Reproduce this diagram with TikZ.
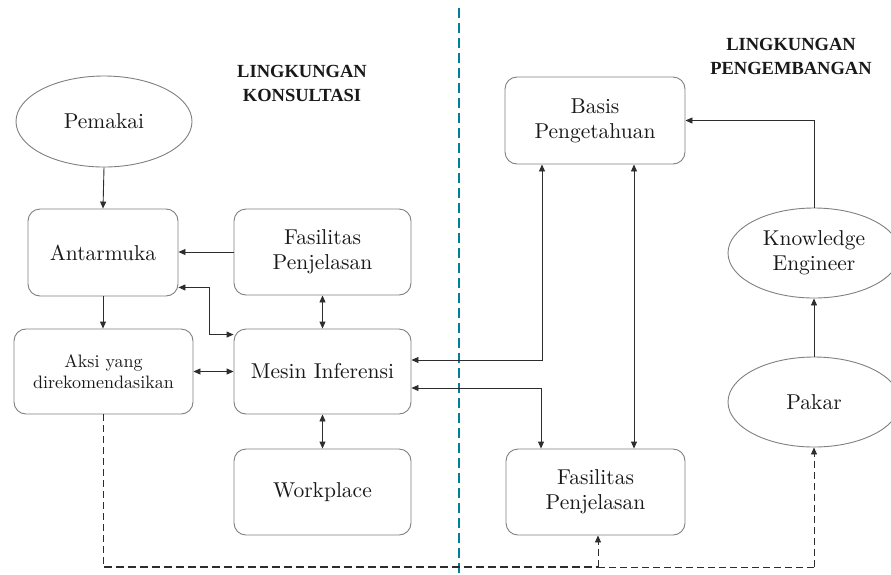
\documentclass[tikz,border=0pt]{standalone}
\usepackage{fontspec}
\newfontfamily\headfont{Liberation Serif}
\newfontfamily\bodyfont{lmroman10-regular}[Extension=.otf]
\usetikzlibrary{arrows.meta,shapes.geometric}
\definecolor{edgegray}{RGB}{128,128,128}
\definecolor{linegray}{RGB}{45,45,45}
\definecolor{divteal}{RGB}{0,128,150}
\definecolor{txt}{RGB}{25,25,25}
\tikzset{
  box/.style={draw=edgegray, line width=0.9pt, rounded corners=12pt, align=center, text=txt,
    font=\bodyfont\fontsize{21.5}{25}\selectfont, inner sep=0pt},
  oval/.style={ellipse, draw=edgegray, line width=0.9pt, align=center, text=txt,
    font=\bodyfont\fontsize{21.5}{25}\selectfont, inner sep=0pt},
  conn/.style={draw=linegray, line width=0.9pt},
  tip/.tip={Triangle[length=7pt,width=6pt]},
  arr/.style={conn, -tip},
  arrboth/.style={conn, tip-tip},
  dashthin/.style={draw=linegray, line width=0.8pt, dash pattern=on 7pt off 4pt},
  dashthick/.style={draw=linegray, line width=1.6pt, dash pattern=on 8pt off 4pt},
  heading/.style={align=center, text=txt, font=\headfont\bfseries\fontsize{18.5}{24}\selectfont},
}
\begin{document}
\begin{tikzpicture}[x=1pt,y=-1pt]
\useasboundingbox (0,0) rectangle (891,574);
\fill[white] (0,0) rectangle (891,574);

% divider
\draw[divteal, line width=1.2pt, dash pattern=on 10pt off 5pt] (459,8) -- (459,574);

% headings
\node[heading] (h1) at (302,83) {LINGKUNGAN\\KONSULTASI};
\node[heading] (h2) at (791,56) {LINGKUNGAN\\PENGEMBANGAN};

% nodes
\node[oval, minimum width=176pt, minimum height=91pt] (pem) at (104,121.5) {Pemakai};
\node[box, minimum width=150pt, minimum height=87pt] (ant) at (103,252.5) {Antarmuka};
\node[box, minimum width=177pt, minimum height=86pt] (fas1) at (322.5,252) {Fasilitas\\Penjelasan};
\node[box, minimum width=179pt, minimum height=85pt, font=\bodyfont\fontsize{18}{21}\selectfont] (aksi) at (103.5,371.5) {Aksi yang\\direkomendasikan};
\node[box, minimum width=177pt, minimum height=85pt] (mesin) at (322.5,371.5) {Mesin Inferensi};
\node[box, minimum width=177pt, minimum height=86pt] (work) at (322.5,492) {Workplace};
\node[box, minimum width=180pt, minimum height=87pt] (basis) at (595,120.5) {Basis\\Pengetahuan};
\node[box, minimum width=179pt, minimum height=86pt] (fas2) at (595.5,492) {Fasilitas\\Penjelasan};
\node[oval, minimum width=172pt, minimum height=90pt] (ke) at (814,253) {Knowledge\\Engineer};
\node[oval, minimum width=172pt, minimum height=90pt] (pakar) at (814,402) {Pakar};

% connectors
\draw[arr] (pem.south) -- (ant.north);
\draw[arr] (fas1.west) -- (ant.east |- fas1.west);
\draw[arr] (ant.south) -- (aksi.north -| ant.south);
\draw[arrboth] ([yshift=-6pt]mesin.north west) -- ++(-24,0) |- ([yshift=9pt]ant.south east);
\draw[arrboth] (aksi.east) -- (mesin.west);
\draw[arrboth] (fas1.south) -- (mesin.north);
\draw[arrboth] (mesin.south) -- (work.north);
\draw[arrboth] ([yshift=11.5pt]mesin.east) -| ([xshift=-53pt]basis.south);
\draw[arrboth] ([yshift=-16.5pt]mesin.east) -| ([xshift=-54.5pt]fas2.north);
\draw[arrboth] ([xshift=39pt]basis.south) -- ([xshift=39pt]basis.south |- fas2.north);
\draw[arr] (ke.north) |- (basis.east);
\draw[arr] (pakar.north) -- (ke.south);

% dashed feedback
\coordinate (bl) at (103.5,567);
\draw[dashthin] (aksi.south) -- (bl);
\draw[dashthick] (bl) -- ([xshift=2.5pt]fas2.south |- bl);
\draw[dashthin] ([xshift=2.5pt]fas2.south |- bl) -- (pakar.south |- bl);
\draw[dashthin, -tip] (pakar.south |- bl) -- (pakar.south);
\draw[dashthin, -tip] ([xshift=2.5pt]fas2.south |- bl) -- ([xshift=2.5pt]fas2.south);
\end{tikzpicture}
\end{document}
